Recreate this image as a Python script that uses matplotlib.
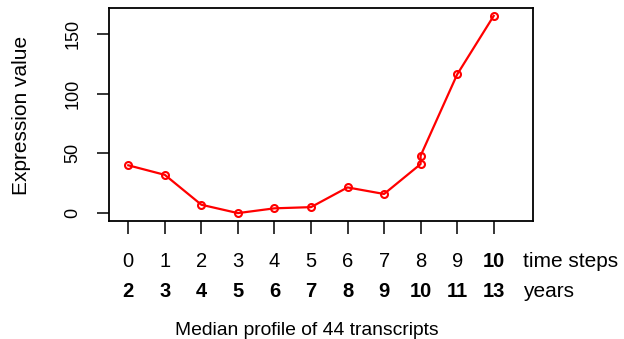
import matplotlib
matplotlib.use("Agg")
import matplotlib.pyplot as plt
from matplotlib.transforms import blended_transform_factory

plt.rcParams['font.family'] = ['Liberation Sans', 'DejaVu Sans']

# data
time_points = [0, 1, 2, 3, 4, 5, 6, 7, 8, 8, 9, 10]
expression = [40, 32, 7, 0, 4, 5, 21.5, 16, 41, 48, 116, 165]
step_ticks = [0, 1, 2, 3, 4, 5, 6, 7, 8, 9, 10]
year_labels = ["2", "3", "4", "5", "6", "7", "8", "9", "10", "11", "13"]
y_ticks = [0, 50, 100, 150]
ylabel = "Expression value"
title = "Median profile of 44 transcripts"

W, H = 624, 339
fig = plt.figure(figsize=(W / 100, H / 100), dpi=100)
ax = fig.add_axes([109 / W, (H - 221) / H, 424 / W, 213 / H])

ax.plot(time_points, expression, color="red", lw=1.6, marker="o",
        markersize=5, markerfacecolor="none", markeredgewidth=1.5)

ax.set_xlim(-0.528, 11.076)
ax.set_ylim(-6.6, 171.6)
for s in ax.spines.values():
    s.set_linewidth(1.3)

ax.set_xticks(step_ticks)
ax.set_xticklabels([])
ax.set_yticks(y_ticks)
ax.set_yticklabels([str(v) for v in y_ticks], rotation=90, va="center", fontsize=13)
ax.tick_params(axis="both", length=9, width=1.1, direction="out")
ax.tick_params(axis="y", pad=11)

fs = 14.5
tr = blended_transform_factory(ax.transData, fig.transFigure)
y_steps = (H - 267) / H
y_years = (H - 297) / H
for i, s in enumerate(step_ticks):
    ax.text(s, y_steps, str(s), transform=tr, ha="center", va="baseline",
            fontsize=fs, fontweight="bold" if i == len(step_ticks) - 1 else "normal",
            clip_on=False)
for s, lab in zip(step_ticks, year_labels):
    ax.text(s, y_years, lab, transform=tr, ha="center", va="baseline",
            fontsize=fs, fontweight="bold", clip_on=False)
ax.text(10.8, y_steps, "time steps", transform=tr, ha="left", va="baseline",
        fontsize=15, clip_on=False)
ax.text(10.8, y_years, "years", transform=tr, ha="left", va="baseline",
        fontsize=15, clip_on=False)

fig.text(306.5 / W, (H - 335) / H, title, ha="center", va="baseline", fontsize=13.9)
fig.text(22 / W, (H - 115) / H, ylabel, rotation=90, ha="center", va="center", fontsize=15)

fig.savefig("out.png", dpi=100)
